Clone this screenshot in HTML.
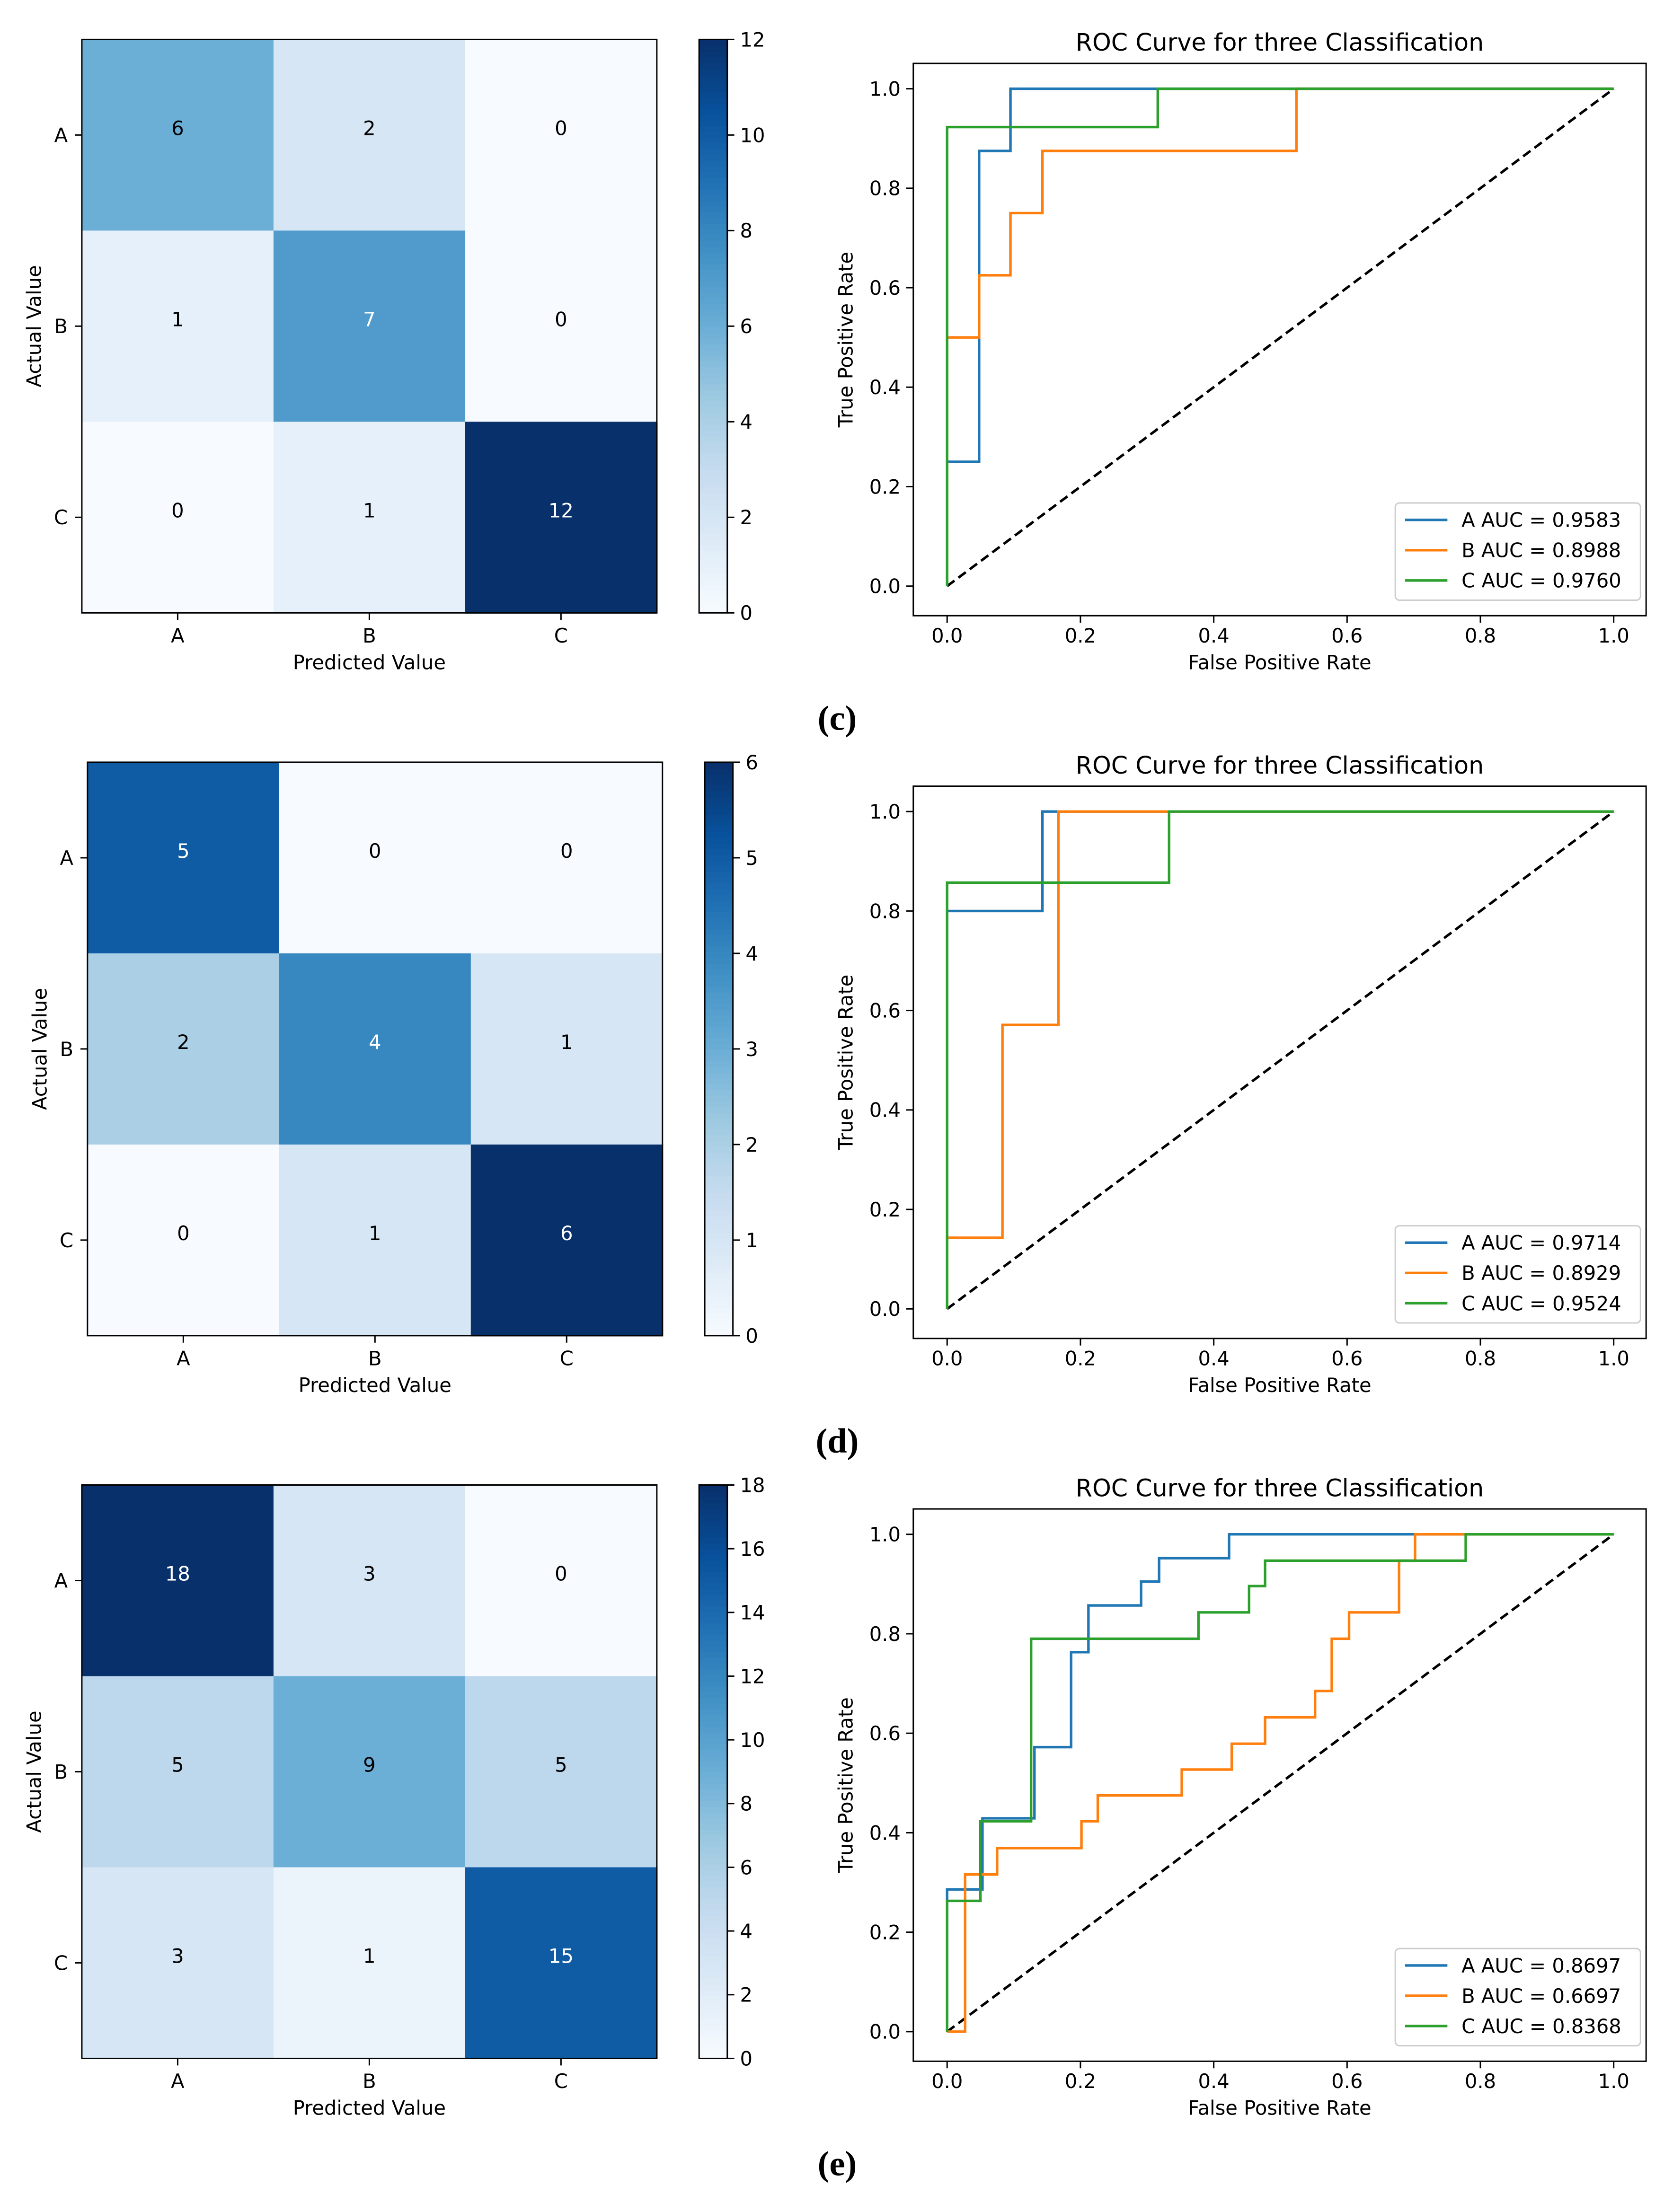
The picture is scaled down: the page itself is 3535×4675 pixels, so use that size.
<!DOCTYPE html>
<html><head><meta charset="utf-8"><style>
html,body{margin:0;padding:0;background:#fff;}
svg{display:block;}
text{font-family:"DejaVu Sans","Liberation Sans",sans-serif;fill:#000;}
</style></head><body>
<svg id="fig" width="3535" height="4675" viewBox="0 0 1187 1570" xmlns="http://www.w3.org/2000/svg">
<rect width="1187" height="1570" fill="#fff"/>
</svg>
<script>
// ---- data ----
const classes = ["A","B","C"];
const cmC = [[6,2,0],[1,7,0],[0,1,12]];
const cmD = [[5,0,0],[2,4,1],[0,1,6]];
const cmE = [[18,3,0],[5,9,5],[3,1,15]];
const cbTicksC = [0,2,4,6,8,10,12];
const cbTicksD = [0,1,2,3,4,5,6];
const cbTicksE = [0,2,4,6,8,10,12,14,16,18];
const rocTicks = [0,0.2,0.4,0.6,0.8,1.0];
const aucC = ["0.9583","0.8988","0.9760"];
const aucD = ["0.9714","0.8929","0.9524"];
const aucE = ["0.8697","0.6697","0.8368"];
const rocC_A_fpr=[0,0,0.048,0.048,0.095,0.095,1], rocC_A_tpr=[0,0.25,0.25,0.875,0.875,1,1];
const rocC_B_fpr=[0,0,0.048,0.048,0.095,0.095,0.143,0.143,0.524,0.524,1], rocC_B_tpr=[0,0.5,0.5,0.625,0.625,0.75,0.75,0.875,0.875,1,1];
const rocC_C_fpr=[0,0,0.316,0.316,1], rocC_C_tpr=[0,0.923,0.923,1,1];
const rocD_A_fpr=[0,0,0.143,0.143,1], rocD_A_tpr=[0,0.8,0.8,1,1];
const rocD_B_fpr=[0,0,0.083,0.083,0.167,0.167,1], rocD_B_tpr=[0,0.143,0.143,0.571,0.571,1,1];
const rocD_C_fpr=[0,0,0.333,0.333,1], rocD_C_tpr=[0,0.857,0.857,1,1];
const rocE_A_fpr=[0,0,0.053,0.053,0.131,0.131,0.186,0.186,0.212,0.212,0.291,0.291,0.318,0.318,0.423,0.423,1];
const rocE_A_tpr=[0,0.286,0.286,0.429,0.429,0.572,0.572,0.763,0.763,0.857,0.857,0.905,0.905,0.952,0.952,1,1];
const rocE_B_fpr=[0,0.027,0.027,0.075,0.075,0.2015,0.2015,0.226,0.226,0.352,0.352,0.427,0.427,0.477,0.477,0.552,0.552,0.577,0.577,0.603,0.603,0.678,0.678,0.702,0.702,1];
const rocE_B_tpr=[0,0,0.316,0.316,0.369,0.369,0.423,0.423,0.475,0.475,0.527,0.527,0.579,0.579,0.632,0.632,0.685,0.685,0.790,0.790,0.843,0.843,0.947,0.947,1,1];
const rocE_C_fpr=[0,0,0.050,0.050,0.126,0.126,0.377,0.377,0.453,0.453,0.477,0.477,0.778,0.778,1];
const rocE_C_tpr=[0,0.263,0.263,0.423,0.423,0.79,0.79,0.843,0.843,0.896,0.896,0.947,0.947,1,1];

const NS="http://www.w3.org/2000/svg";
const svg=document.getElementById('fig');
function mk(tag,attrs,parent,txt){const e=document.createElementNS(NS,tag);for(const k in attrs)e.setAttribute(k,attrs[k]);if(txt!==undefined)e.textContent=txt;(parent||svg).appendChild(e);return e;}
const blues=["#f7fbff","#deebf7","#c6dbef","#9ecae1","#6baed6","#4292c6","#2171b5","#08519c","#08306b"];
function hx(c){return [1,3,5].map(i=>parseInt(c.substr(i,2),16));}
function blue(t){t=Math.max(0,Math.min(1,t));const p=t*8,i=Math.min(7,Math.floor(p)),f=p-i;const a=hx(blues[i]),b=hx(blues[i+1]);return "rgb("+a.map((v,k)=>Math.round(v+(b[k]-v)*f)).join(",")+")";}

function drawCM(cm,ticks,x0,y0,tag){
  const g=mk('g',{});
  
  
  const W=408,H=407,cw=W/3,ch=H/3;const vmax=Math.max(...cm.flat());
  cm.forEach((row,r)=>row.forEach((v,c)=>{
    const rc=mk('rect',{x:x0+c*cw,y:y0+r*ch,width:cw+0.5,height:ch+0.5,fill:blue(v/vmax)},g);
    
    
    const t=mk('text',{x:x0+(c+0.5)*cw,y:y0+(r+0.5)*ch,'font-size':14,'text-anchor':'middle',style:'fill:'+(v>vmax/2?'#fff':'#000')},g,String(v));
    
    
  }));
  mk('rect',{x:x0,y:y0,width:W,height:H,fill:'none',stroke:'#000','stroke-width':1},g);
  classes.forEach((c,i)=>{
    const cx=x0+(i+0.5)*cw;mk('line',{x1:cx,y1:y0+H,x2:cx,y2:y0+H+5,stroke:'#000'},g);
    const t=mk('text',{x:cx,y:y0+H+21,'font-size':14,'text-anchor':'middle'},g,c);
    
    const cy=y0+(i+0.5)*ch;mk('line',{x1:x0-5,y1:cy,x2:x0,y2:cy,stroke:'#000'},g);
    const t2=mk('text',{x:x0-10,y:cy+5,'font-size':14,'text-anchor':'end'},g,c);
    
  });
  const xl=mk('text',{x:x0+W/2,y:y0+H+40,'font-size':14,'text-anchor':'middle'},g,'Predicted Value');
  
  const yl=mk('text',{x:0,y:0,'font-size':14,'text-anchor':'middle',transform:'translate('+(x0-29)+','+(y0+H/2)+') rotate(-90)'},g,'Actual Value');
  
  const cbx=x0+438,cbw=20;const cb=mk('g',{},g);
  
  const N=100;for(let i=0;i<N;i++){mk('rect',{x:cbx,y:y0+H-(i+1)*H/N,width:cbw,height:H/N+0.6,fill:blue((i+0.5)/N)},cb);}
  mk('rect',{x:cbx,y:y0,width:cbw,height:H,fill:'none',stroke:'#000','stroke-width':1},cb);
  ticks.forEach(v=>{const y=y0+H-v/vmax*H;mk('line',{x1:cbx+cbw,y1:y,x2:cbx+cbw+5,y2:y,stroke:'#000'},cb);
    const t=mk('text',{x:cbx+cbw+9,y:y+5,'font-size':14},cb,String(v));
    });
}

function drawROC(series,aucs,dy,tag){
  const g=mk('g',{});
  
  
  const L=648,R=1168,T=45+dy,B=437+dy;
  const sx=v=>672+v*473, sy=v=>416+dy-v*353;
  const tt=mk('text',{x:(L+R)/2,y:T-9,'font-size':17,'text-anchor':'middle'},g,'ROC Curve for three Classification');
  
  mk('line',{x1:sx(0),y1:sy(0),x2:sx(1),y2:sy(1),stroke:'#000','stroke-width':1.8,'stroke-dasharray':'6.5,3.5'},g);
  const cols=['#1f77b4','#ff7f0e','#2ca02c'];
  series.forEach((s,i)=>{const pts=s[0].map((f,k)=>sx(f)+','+sy(s[1][k])).join(' ');
    const p=mk('polyline',{points:pts,fill:'none',stroke:cols[i],'stroke-width':1.8},g);
    });
  mk('rect',{x:L,y:T,width:R-L,height:B-T,fill:'none',stroke:'#000','stroke-width':1},g);
  rocTicks.forEach(v=>{
    mk('line',{x1:sx(v),y1:B,x2:sx(v),y2:B+5,stroke:'#000'},g);
    const t=mk('text',{x:sx(v),y:B+19,'font-size':14,'text-anchor':'middle'},g,v.toFixed(1));
    
    mk('line',{x1:L-5,y1:sy(v),x2:L,y2:sy(v),stroke:'#000'},g);
    const t2=mk('text',{x:L-9,y:sy(v)+5,'font-size':14,'text-anchor':'end'},g,v.toFixed(1));
    
  });
  const xl=mk('text',{x:(L+R)/2,y:B+38,'font-size':14,'text-anchor':'middle'},g,'False Positive Rate');
  
  const yl=mk('text',{x:0,y:0,'font-size':14,'text-anchor':'middle',transform:'translate('+(L-43)+','+((T+B)/2)+') rotate(-90)'},g,'True Positive Rate');
  
  const lg=mk('g',{},g);
  mk('rect',{x:990,y:357+dy,width:174,height:69,rx:3,fill:'#fff',stroke:'#ccc','stroke-width':1},lg);
  aucs.forEach((a,i)=>{const y=369+dy+i*21.5;mk('line',{x1:997,y1:y,x2:1027,y2:y,stroke:cols[i],'stroke-width':1.8},lg);
    const t=mk('text',{x:1037,y:y+5,'font-size':14},lg,classes[i]+' AUC = '+a);
    });
}
function label(s,y){const t=mk('text',{x:594,y:y,'font-size':25,'text-anchor':'middle',style:'font-family:"Liberation Serif",serif;font-weight:bold'},svg,s);
  }

drawCM(cmC,cbTicksC,58,28,'c');
drawROC([[rocC_A_fpr,rocC_A_tpr],[rocC_B_fpr,rocC_B_tpr],[rocC_C_fpr,rocC_C_tpr]],aucC,0,'c');
label('(c)',518);
drawCM(cmD,cbTicksD,62,541,'d');
drawROC([[rocD_A_fpr,rocD_A_tpr],[rocD_B_fpr,rocD_B_tpr],[rocD_C_fpr,rocD_C_tpr]],aucD,513,'d');
label('(d)',1031);
drawCM(cmE,cbTicksE,58,1054,'e');
drawROC([[rocE_A_fpr,rocE_A_tpr],[rocE_B_fpr,rocE_B_tpr],[rocE_C_fpr,rocE_C_tpr]],aucE,1026,'e');
label('(e)',1544);
</script>
</body></html>
